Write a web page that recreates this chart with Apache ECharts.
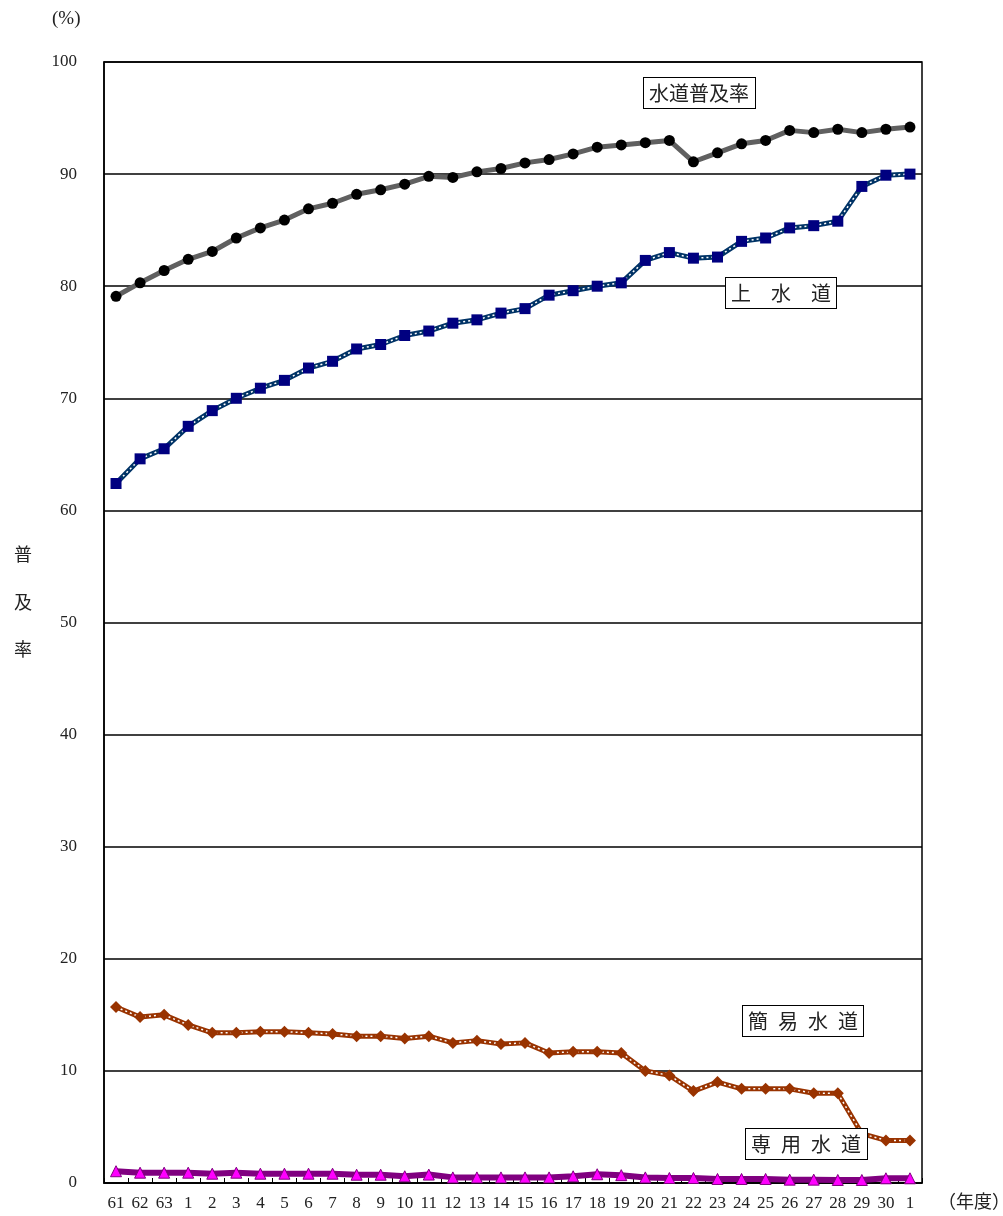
<!DOCTYPE html>
<html>
<head>
<meta charset="utf-8">
<script src="https://cdn.jsdelivr.net/npm/echarts@6/dist/echarts.min.js"></script>
<style>html,body{margin:0;padding:0;background:#fff}#c{width:1003px;height:1216px}</style>
</head>
<body>
<div id="c"></div>
<script>
var years = ['61','62','63','1','2','3','4','5','6','7','8','9','10','11','12','13','14','15','16','17','18','19','20','21','22','23','24','25','26','27','28','29','30','1'];
var yTicks = [0,10,20,30,40,50,60,70,80,90,100];
var suidoFukyu = [79.1,80.3,81.4,82.4,83.1,84.3,85.2,85.9,86.9,87.4,88.2,88.6,89.1,89.8,89.7,90.2,90.5,91.0,91.3,91.8,92.4,92.6,92.8,93.0,91.1,91.9,92.7,93.0,93.9,93.7,94.0,93.7,94.0,94.2];
var josuido = [62.4,64.6,65.5,67.5,68.9,70.0,70.9,71.6,72.7,73.3,74.4,74.8,75.6,76.0,76.7,77.0,77.6,78.0,79.2,79.6,80.0,80.3,82.3,83.0,82.5,82.6,84.0,84.3,85.2,85.4,85.8,88.9,89.9,90.0];
var kaniSuido = [15.7,14.8,15.0,14.1,13.4,13.4,13.5,13.5,13.4,13.3,13.1,13.1,12.9,13.1,12.5,12.7,12.4,12.5,11.6,11.7,11.7,11.6,10.0,9.6,8.2,9.0,8.4,8.4,8.4,8.0,8.0,4.4,3.8,3.8];
var senyoSuido = [1.05,0.92,0.92,0.92,0.83,0.92,0.83,0.83,0.83,0.83,0.74,0.74,0.6,0.75,0.5,0.5,0.5,0.5,0.5,0.6,0.78,0.7,0.5,0.45,0.45,0.36,0.36,0.36,0.3,0.3,0.27,0.27,0.42,0.42];
var seriesNames = ['水道普及率','上　水　道','簡\u2002易\u2002水\u2002道','専\u2002用\u2002水\u2002道'];

var serif = '"Liberation Serif","DejaVu Serif",serif';
var cjk = '"Noto Sans CJK JP","Noto Sans CJK SC",sans-serif';
var chart = echarts.init(document.getElementById('c'));

function boxLabel(text, x, y, w) {
  return {
    type: 'text', left: x, top: y, z: 100,
    style: {
      text: text, font: '20px ' + cjk, fill: '#222', lineHeight: 23,
      backgroundColor: '#fff', borderColor: '#000', borderWidth: 1,
      padding: [4, 5, 3, 5], width: w, align: 'center', overflow: 'none'
    }
  };
}

function lineOnly(name, data, color, width, z) {
  return { name: name, type: 'line', data: data, z: z, silent: true,
    lineStyle: { color: color, width: width }, symbol: 'none' };
}
function dots(name, data, z) {
  return { name: name + '_dots', type: 'line', data: data, z: z, silent: true,
    lineStyle: { color: '#fff', width: 1.5, type: [2, 3] }, symbol: 'none' };
}
function marks(name, data, symbol, size, itemStyle, z) {
  return { name: name, type: 'line', data: data, z: z,
    lineStyle: { opacity: 0, width: 0 }, symbol: symbol, symbolSize: size, itemStyle: itemStyle };
}

chart.setOption({
  animation: false,
  backgroundColor: '#fff',
  grid: { left: 104, right: 81, top: 62, bottom: 33, show: true, borderColor: '#000', borderWidth: 1.5, backgroundColor: 'transparent' },
  xAxis: {
    type: 'category', data: years, boundaryGap: true,
    axisLine: { lineStyle: { color: '#000', width: 1.5 } },
    axisTick: { show: true, inside: true, length: 5, interval: 0, lineStyle: { color: '#000' } },
    axisLabel: { interval: 0, color: '#222', fontFamily: serif, fontSize: 17, margin: 12 },
    splitLine: { show: false }
  },
  yAxis: {
    type: 'value', min: yTicks[0], max: yTicks[yTicks.length - 1], interval: 10,
    axisLine: { show: true, lineStyle: { color: '#000', width: 1.5 } },
    axisTick: { show: false },
    axisLabel: { color: '#222', fontFamily: serif, fontSize: 17, margin: 27 },
    splitLine: { show: true, lineStyle: { color: '#000', width: 1.5 } }
  },
  series: [
    lineOnly(seriesNames[0], suidoFukyu, '#606060', 5, 3),
    marks(seriesNames[0], suidoFukyu, 'circle', 11, { color: '#000' }, 5),
    lineOnly(seriesNames[1], josuido, '#003366', 5, 3),
    dots(seriesNames[1], josuido, 4),
    marks(seriesNames[1], josuido, 'rect', 11, { color: '#000080' }, 5),
    lineOnly(seriesNames[2], kaniSuido, '#993300', 5, 3),
    dots(seriesNames[2], kaniSuido, 4),
    marks(seriesNames[2], kaniSuido, 'diamond', 12, { color: '#993300' }, 5),
    lineOnly(seriesNames[3], senyoSuido, '#800080', 6, 3),
    marks(seriesNames[3], senyoSuido, 'triangle', 11, { color: '#ff00ff', borderColor: '#800080', borderWidth: 1 }, 5)
  ],
  graphic: [
    { type: 'text', left: 52, top: 10, style: { text: '(%)', font: '19px ' + serif, fill: '#222' } },
    { type: 'text', left: 14, top: 545, style: { text: '普', font: '18px ' + cjk, fill: '#222' } },
    { type: 'text', left: 14, top: 593, style: { text: '及', font: '18px ' + cjk, fill: '#222' } },
    { type: 'text', left: 14, top: 640, style: { text: '率', font: '18px ' + cjk, fill: '#222' } },
    { type: 'text', left: 938, top: 1192, style: { text: '（年度）', font: '18px ' + cjk, fill: '#222' } },
    boxLabel(seriesNames[0], 643, 77, 101),
    boxLabel(seriesNames[1], 725, 277, 100),
    boxLabel(seriesNames[2], 742, 1005, 110),
    boxLabel(seriesNames[3], 745, 1128, 111)
  ]
});
</script>
</body>
</html>
